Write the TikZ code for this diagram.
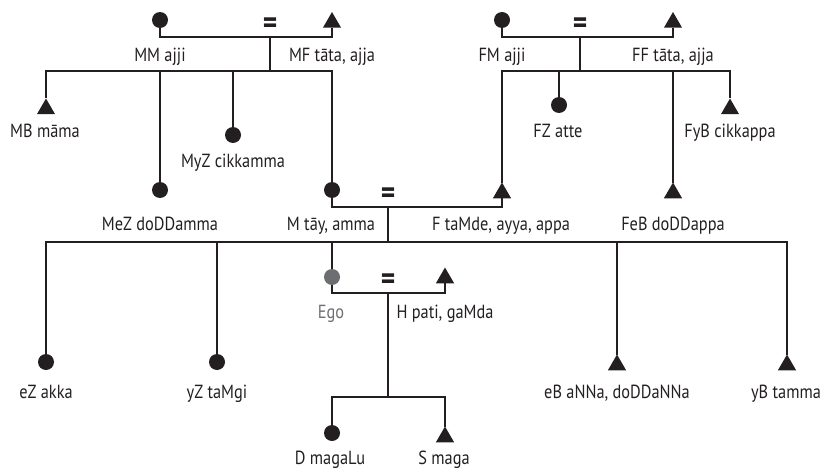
\documentclass[tikz,border=0pt]{standalone}
\usepackage{fontspec}
\setmainfont[FakeStretch=0.86]{PT Sans}
\usetikzlibrary{shapes.geometric}
\definecolor{ink}{HTML}{231F20}
\definecolor{egogray}{HTML}{6D6E71}
\begin{document}
\begin{tikzpicture}[x=1pt,y=-1pt,
  female/.style={circle,fill=ink,inner sep=0,outer sep=0,minimum size=16pt},
  male/.style={regular polygon,regular polygon sides=3,fill=ink,inner sep=0,outer sep=0,minimum size=21pt},
  lbl/.style={anchor=base,inner sep=0,font=\fontsize{19}{22}\selectfont,text=ink},
  eqs/.style={inner sep=0,font=\fontsize{32}{32}\selectfont\bfseries,text=ink},
  kin/.style={draw=ink,line width=2pt}]
\useasboundingbox (0,0) rectangle (824,468);
% generation 1, mother's side
\node[female] (MM) at (160,20) {};
\node[male] (MF) at (332,22.5) {};
\node[eqs] (eq1) at (270,26) {=};
\coordinate (c1) at (270,37);
\coordinate (s1) at (270,71);
\node[male] (MB) at (46,109) {};
\node[female] (MyZ) at (233,135) {};
\node[female] (MeZ) at (160,190) {};
\node[female] (M) at (332,190) {};
% generation 1, father's side
\node[female] (FM) at (502,20) {};
\node[male] (FF) at (673,22.5) {};
\node[eqs] (eq2) at (580,26) {=};
\coordinate (c2) at (580,37);
\coordinate (s2) at (580,71);
\node[female] (FZ) at (559,105) {};
\node[male] (FyB) at (730,109) {};
\node[male] (FeB) at (673,193) {};
\node[male] (F) at (502,193) {};
% parents
\node[eqs] (eq3) at (388,196) {=};
\coordinate (c3) at (388,207);
\coordinate (s3) at (388,242);
% ego generation
\node[female] (eZ) at (46,362) {};
\node[female] (yZ) at (217,362) {};
\node[female,fill=egogray] (Ego) at (332,277) {};
\node[male] (H) at (445,278) {};
\node[male] (eB) at (617,365) {};
\node[male] (yB) at (787,365) {};
\node[eqs] (eq4) at (388,282) {=};
\coordinate (c4) at (388,293);
\coordinate (s4) at (388,397);
% children
\node[female] (D) at (332,433) {};
\node[male] (S) at (445,437) {};
% connectors
\draw[kin] (MM.south) |- (c1) -| (MF.south);
\draw[kin] (c1) -- (s1);
\draw[kin] (MB.north) |- (s1) -| (M.north);
\draw[kin] (MeZ.north) -- (MeZ.north |- s1);
\draw[kin] (MyZ.north) -- (MyZ.north |- s1);
\draw[kin] (FM.south) |- (c2) -| (FF.south);
\draw[kin] (c2) -- (s2);
\draw[kin] (F.north) |- (s2) -| (FyB.north);
\draw[kin] (FZ.north) -- (FZ.north |- s2);
\draw[kin] (FeB.north) -- (FeB.north |- s2);
\draw[kin] (M.south) |- (c3) -| (F.south);
\draw[kin] (c3) -- (s3);
\draw[kin] (eZ.north) |- (s3) -| (yB.north);
\draw[kin] (yZ.north) -- (yZ.north |- s3);
\draw[kin] (Ego.north) -- (Ego.north |- s3);
\draw[kin] (eB.north) -- (eB.north |- s3);
\draw[kin] (Ego.south) |- (c4) -| (H.south);
\draw[kin] (c4) -- (s4);
\draw[kin] (D.north) |- (s4) -| (S.north);
% labels
\node[lbl] (lMM) at (160,62) {MM ajji};
\node[lbl] (lMF) at (332,62) {MF tāta, ajja};
\node[lbl] (lFM) at (502,62) {FM ajji};
\node[lbl] (lFF) at (673,62) {FF tāta, ajja};
\node[lbl] (lMB) at (45,137) {MB māma};
\node[lbl] (lMyZ) at (233,167) {MyZ cikkamma};
\node[lbl] (lFZ) at (558,137) {FZ atte};
\node[lbl] (lFyB) at (730,137) {FyB cikkappa};
\node[lbl] (lMeZ) at (160,230) {MeZ doDDamma};
\node[lbl] (lM) at (331,230) {M tāy, amma};
\node[lbl] (lF) at (501,230) {F taMde, ayya, appa};
\node[lbl] (lFeB) at (673,230) {FeB doDDappa};
\node[lbl,text=egogray] (lEgo) at (331,318) {Ego};
\node[lbl] (lH) at (445,318) {H pati, gaMda};
\node[lbl] (leZ) at (46,398) {eZ akka};
\node[lbl] (lyZ) at (217,398) {yZ taMgi};
\node[lbl] (leB) at (617,398) {eB aNNa, doDDaNNa};
\node[lbl] (lyB) at (786,398) {yB tamma};
\node[lbl] (lD) at (330,464) {D magaLu};
\node[lbl] (lS) at (444,464) {S maga};
\end{tikzpicture}
\end{document}
